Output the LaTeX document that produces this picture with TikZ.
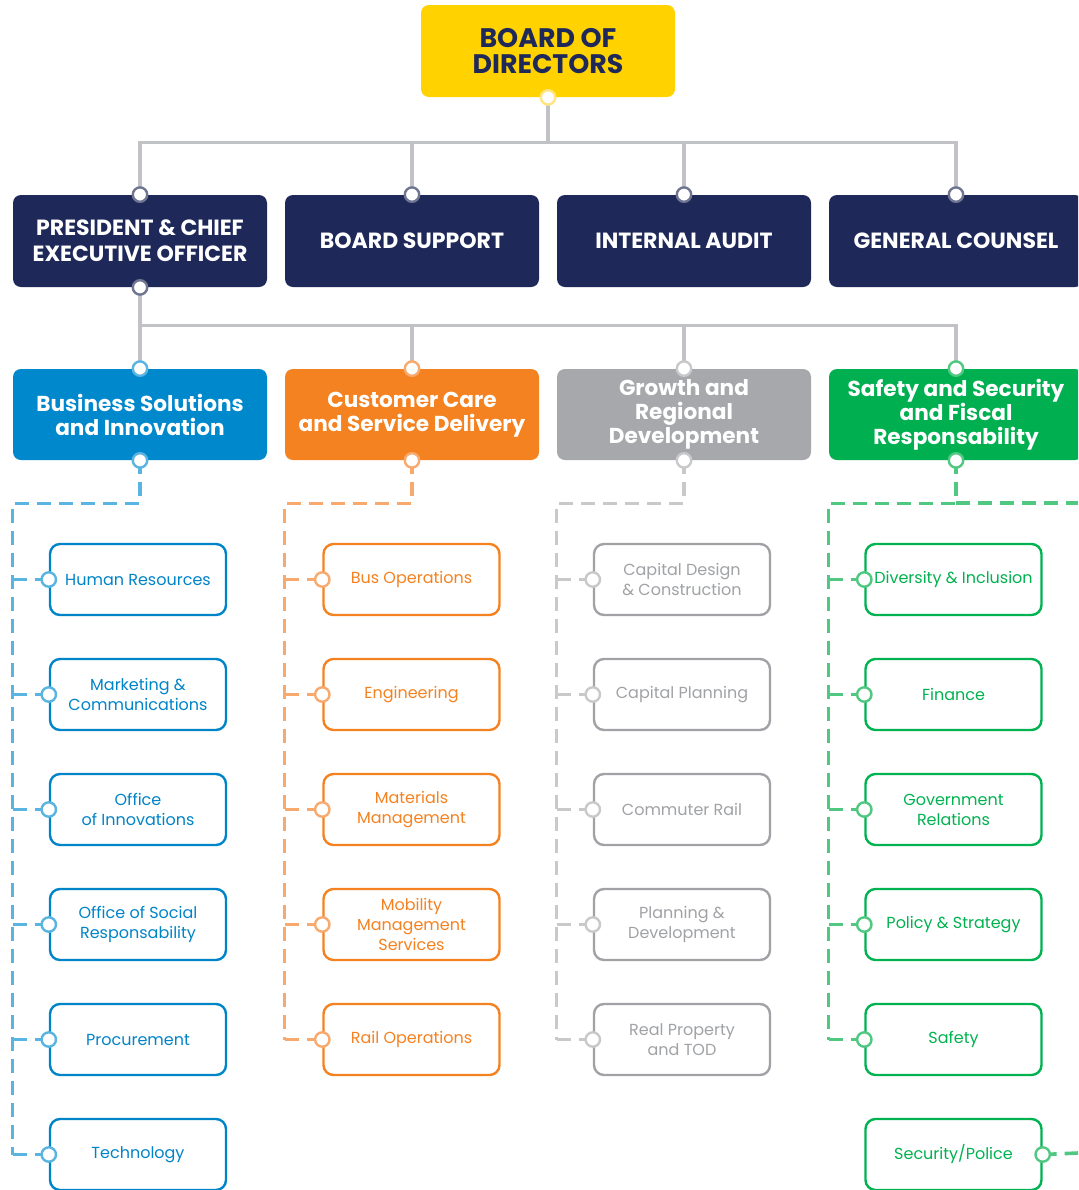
\documentclass[tikz,border=0pt]{standalone}
\usepackage{fontspec}
\setmainfont{Poppins}
\usetikzlibrary{positioning}

\definecolor{navy}{RGB}{30,40,89}
\definecolor{bodyellow}{RGB}{255,210,0}
\definecolor{bsiblue}{RGB}{0,136,204}
\definecolor{ccsorange}{RGB}{245,130,32}
\definecolor{grdgray}{RGB}{166,168,171}
\definecolor{ssfgreen}{RGB}{0,176,80}
\definecolor{unitblue}{RGB}{0,132,200}
\definecolor{unitorange}{RGB}{245,130,32}
\definecolor{unitgray}{RGB}{160,162,165}
\definecolor{unitgreen}{RGB}{0,178,80}
\definecolor{lineblue}{RGB}{90,180,225}
\definecolor{lineorange}{RGB}{248,170,110}
\definecolor{linegray}{RGB}{200,201,203}
\definecolor{linegreen}{RGB}{80,200,130}
\definecolor{tiegray}{RGB}{192,194,198}
\definecolor{ringnavy}{RGB}{112,118,146}
\definecolor{ringyellow}{RGB}{255,228,130}

\tikzset{
  board/.style={fill=bodyellow, rounded corners=4pt, minimum width=127pt,
    minimum height=46pt, text=navy, align=center,
    font=\fontsize{13.4}{13}\selectfont\bfseries},
  exec/.style={fill=navy, rounded corners=4pt, minimum width=127pt,
    minimum height=46pt, text=white, align=center,
    font=\fontsize{11}{13}\selectfont\bfseries},
  dept/.style={fill=#1, rounded corners=4pt, minimum width=127pt,
    minimum height=45.5pt, text=white, align=center,
    font=\fontsize{10.8}{12}\selectfont\bfseries},
  unit/.style={draw=#1, fill=white, line width=1.2pt, rounded corners=5pt,
    minimum width=88pt, minimum height=35.5pt, text=#1, align=center,
    font=\fontsize{8}{10}\selectfont},
  dot/.style={circle, draw=#1, fill=white, line width=1.2pt,
    minimum size=7.2pt, inner sep=0pt},
  tie/.style={draw=tiegray, line width=1.8pt},
  sub/.style={draw=#1, line width=1.8pt, dash pattern=on 7pt off 4pt}
}

\begin{document}
\begin{tikzpicture}[x=0.5pt,y=-0.5pt,node distance=57.5pt and 136pt,on grid]
  \clip (0,0) rectangle (1078,1190);

  % top of the chart
  \node[board] (bod) at (548,51) {BOARD OF\\DIRECTORS};
  \node[exec] (ceo) at (140,241) {PRESIDENT \& CHIEF\\EXECUTIVE OFFICER};
  \node[exec] (bs) [right=of ceo] {BOARD SUPPORT};
  \node[exec] (ia) [right=of bs] {INTERNAL AUDIT};
  \node[exec] (gc) [right=of ia] {GENERAL COUNSEL};

  % departments
  \node[dept=bsiblue] (bsi) at (140,414.5) {Business Solutions\\and Innovation};
  \node[dept=ccsorange] (ccs) [right=of bsi] {Customer Care\\and Service Delivery};
  \node[dept=grdgray] (grd) [right=of ccs] {Growth and\\Regional\\Development};
  \node[dept=ssfgreen] (ssf) [right=of grd] {Safety and Security\\and Fiscal\\Responsability};

  % business solutions units
  \node[unit=unitblue] (hr) at (138,579.5) {Human Resources};
  \node[unit=unitblue] (mc) [below=of hr] {Marketing \&\\Communications};
  \node[unit=unitblue] (oi) [below=of mc] {Office\\of Innovations};
  \node[unit=unitblue] (osr) [below=of oi] {Office of Social\\Responsability};
  \node[unit=unitblue] (proc) [below=of osr] {Procurement};
  \node[unit=unitblue] (tech) [below=of proc] {Technology};

  % customer care units
  \node[unit=unitorange] (bus) at (411.5,579.5) {Bus Operations};
  \node[unit=unitorange] (eng) [below=of bus] {Engineering};
  \node[unit=unitorange] (mat) [below=of eng] {Materials\\Management};
  \node[unit=unitorange] (mms) [below=of mat] {Mobility\\Management\\Services};
  \node[unit=unitorange] (rail) [below=of mms] {Rail Operations};

  % growth units
  \node[unit=unitgray] (cdc) at (682,579.5) {Capital Design\\\& Construction};
  \node[unit=unitgray] (cp) [below=of cdc] {Capital Planning};
  \node[unit=unitgray] (cr) [below=of cp] {Commuter Rail};
  \node[unit=unitgray] (pd) [below=of cr] {Planning \&\\Development};
  \node[unit=unitgray] (rp) [below=of pd] {Real Property\\and TOD};

  % safety units
  \node[unit=unitgreen] (di) at (953.5,579.5) {Diversity \& Inclusion};
  \node[unit=unitgreen] (fin) [below=of di] {Finance};
  \node[unit=unitgreen] (gr) [below=of fin] {Government\\Relations};
  \node[unit=unitgreen] (ps) [below=of gr] {Policy \& Strategy};
  \node[unit=unitgreen] (safe) [below=of ps] {Safety};
  \node[unit=unitgreen] (sp) [below=of safe] {Security/Police};

  \coordinate (edgetop) at (1078,503);
  \coordinate (edgebot) at (1078,1153);

  % solid ties
  \draw[tie] (bod.south) -- ++(0,46);
  \draw[tie] (ceo.north) -- ++(0,-52) -| (gc.north);
  \draw[tie] (bs.north) -- ++(0,-52);
  \draw[tie] (ia.north) -- ++(0,-52);
  \draw[tie] (ceo.south) -- (bsi.north);
  \draw[tie] (bsi.north) -- ++(0,-43) -| (ssf.north);
  \draw[tie] (ccs.north) -- ++(0,-43);
  \draw[tie] (grd.north) -- ++(0,-43);

  % dashed ties
  \draw[sub=lineblue] (bsi.south) -- ++(0,43) -| (bsi.west |- tech.west);
  \foreach \u in {hr,mc,oi,osr,proc,tech}
    \draw[sub=lineblue] (bsi.west |- \u.west) -- (\u.west);
  \draw[sub=lineorange] (ccs.south) -- ++(0,43) -| (ccs.west |- rail.west);
  \foreach \u in {bus,eng,mat,mms,rail}
    \draw[sub=lineorange] (ccs.west |- \u.west) -- (\u.west);
  \draw[sub=linegray] (grd.south) -- ++(0,43) -| (grd.west |- rp.west);
  \foreach \u in {cdc,cp,cr,pd,rp}
    \draw[sub=linegray] (grd.west |- \u.west) -- (\u.west);
  \draw[sub=linegreen] (ssf.south) -- ++(0,43) -| (ssf.west |- safe.west);
  \draw[sub=linegreen] (ssf.south |- edgetop) -- (edgetop);
  \foreach \u in {di,fin,gr,ps,safe}
    \draw[sub=linegreen] (ssf.west |- \u.west) -- (\u.west);
  \draw[sub=linegreen] (sp.east) -- (edgebot);

  % dots
  \node[dot=ringyellow] at (bod.south) {};
  \foreach \n in {ceo,bs,ia,gc}
    \node[dot=ringnavy] at (\n.north) {};
  \node[dot=ringnavy] at (ceo.south) {};
  \node[dot=lineblue] at (bsi.north) {};
  \node[dot=lineblue] at (bsi.south) {};
  \node[dot=lineorange] at (ccs.north) {};
  \node[dot=lineorange] at (ccs.south) {};
  \node[dot=linegray] at (grd.north) {};
  \node[dot=linegray] at (grd.south) {};
  \node[dot=linegreen] at (ssf.north) {};
  \node[dot=linegreen] at (ssf.south) {};
  \foreach \u in {hr,mc,oi,osr,proc,tech}
    \node[dot=lineblue] at (\u.west) {};
  \foreach \u in {bus,eng,mat,mms,rail}
    \node[dot=lineorange] at (\u.west) {};
  \foreach \u in {cdc,cp,cr,pd,rp}
    \node[dot=linegray] at (\u.west) {};
  \foreach \u in {di,fin,gr,ps,safe}
    \node[dot=linegreen] at (\u.west) {};
  \node[dot=linegreen] at (sp.east) {};
\end{tikzpicture}
\end{document}
